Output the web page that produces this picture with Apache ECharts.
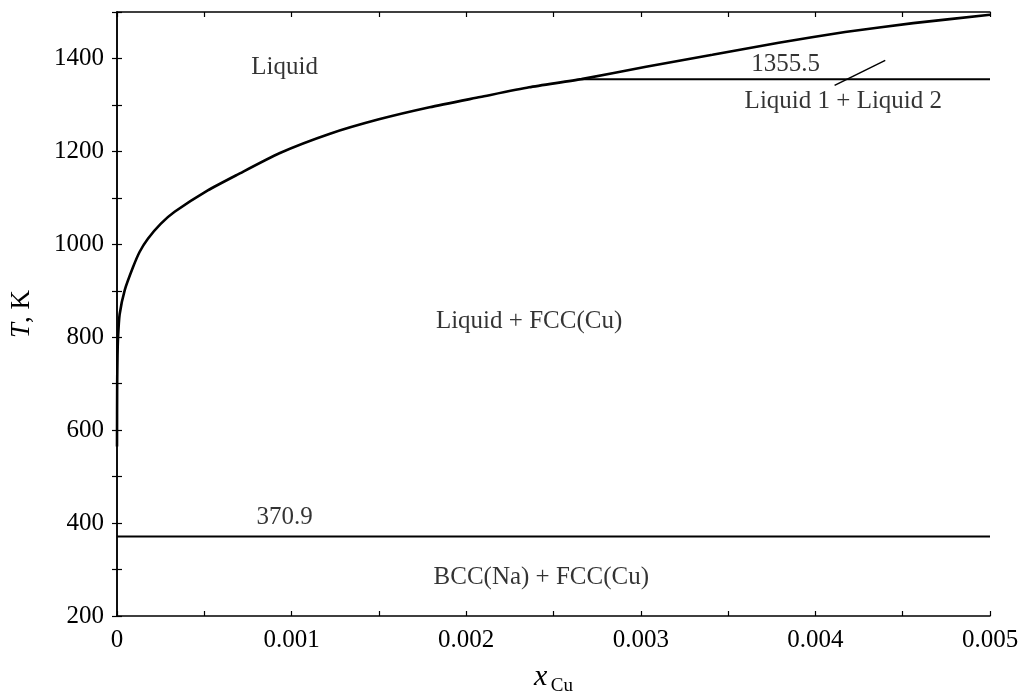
<!DOCTYPE html>
<html>
<head>
<meta charset="utf-8">
<title>Na-Cu</title>
<script src="https://cdn.jsdelivr.net/npm/echarts@6/dist/echarts.min.js"></script>
<style>
  html, body { margin: 0; padding: 0; background: #fff; }
  #chart { width: 1024px; height: 698px; }
</style>
</head>
<body>
<div id="chart"></div>
<script>
// liquidus curve (x Cu, T K)
var liqX = [0, 0.000001, 0.000003, 0.000006, 0.000015, 0.000044, 0.000092, 0.00013, 0.000177, 0.00025, 0.00033, 0.00052, 0.00069, 0.00093, 0.00122, 0.0015, 0.00179, 0.00208, 0.00236, 0.00266, 0.00303, 0.00341, 0.00379, 0.00417, 0.00456, 0.005];
var liqT = [565, 700, 760, 800, 849, 901, 951, 984, 1012, 1044, 1070, 1116, 1150, 1196, 1238, 1269, 1295, 1317, 1338, 1355.5, 1382, 1408, 1434, 1457, 1476, 1494];

// invariant lines
var monoX = [0.00266, 0.005];
var monoT = 1355.5;
var eutX = [0, 0.005];
var eutT = 370.9;

// small pointer under the "1355.5" label
var leaderX = [0.00411, 0.0044];
var leaderT = [1342, 1396];

// region labels
var labelText = ['Liquid', '1355.5', 'Liquid 1 + Liquid 2', 'Liquid + FCC(Cu)', '370.9', 'BCC(Na) + FCC(Cu)'];
var labelX = [0.00096, 0.00383, 0.00416, 0.00236, 0.00096, 0.00243];
var labelT = [1381, 1387, 1307, 833, 412, 284];

var serif = "'Liberation Serif', 'Times New Roman', serif";

function pairs(xs, ys) {
    var out = [];
    for (var i = 0; i < xs.length; i++) {
        out.push([xs[i], Array.isArray(ys) ? ys[i] : ys]);
    }
    return out;
}

var labelData = [];
for (var i = 0; i < labelText.length; i++) {
    labelData.push({ name: labelText[i], value: [labelX[i], labelT[i]] });
}

var lineStyle = { color: '#000', width: 2 };
var tickStyle = { inside: true, length: 5, lineStyle: { color: '#000', width: 1.2 } };
var axisLineStyle = { lineStyle: { color: '#000', width: 1.5 } };

var option = {
    animation: false,
    backgroundColor: '#fff',
    grid: { left: 117, right: 34, top: 12, bottom: 82, outerBoundsMode: 'none' },
    xAxis: [{
        type: 'value', min: 0, max: 0.005, interval: 0.0005, position: 'bottom',
        name: '{i|x} {s|Cu}', nameLocation: 'middle', nameGap: 43,
        nameTextStyle: {
            rich: {
                i: { fontFamily: serif, fontStyle: 'italic', fontSize: 30, color: '#000' },
                s: { fontFamily: serif, fontSize: 19, color: '#000', padding: [18, 0, 0, 0] }
            }
        },
        axisLine: axisLineStyle,
        axisTick: tickStyle,
        splitLine: { show: false },
        axisLabel: {
            margin: 12, fontFamily: serif, fontSize: 25, color: '#000',
            formatter: function(v) {
                var k = v * 1000;
                if (Math.abs(k - Math.round(k)) > 1e-6) return '';
                return v === 0 ? '0' : v.toFixed(3);
            }
        }
    }, {
        type: 'value', min: 0, max: 0.005, interval: 0.0005, position: 'top',
        axisLine: axisLineStyle,
        axisTick: tickStyle,
        axisLabel: { show: false },
        splitLine: { show: false }
    }],
    yAxis: [{
        type: 'value', min: 200, max: 1500, interval: 100, position: 'left',
        name: '{i|T}{n|, K}', nameLocation: 'middle', nameGap: 82, nameRotate: 90,
        nameTextStyle: {
            rich: {
                i: { fontFamily: serif, fontStyle: 'italic', fontSize: 27, color: '#000' },
                n: { fontFamily: serif, fontSize: 27, color: '#000' }
            }
        },
        axisLine: axisLineStyle,
        axisTick: tickStyle,
        splitLine: { show: false },
        axisLabel: {
            margin: 13, fontFamily: serif, fontSize: 25, color: '#000',
            formatter: function(v) { return v % 200 === 0 ? String(v) : ''; }
        }
    }, {
        type: 'value', min: 200, max: 1500, interval: 100, position: 'right',
        axisLine: axisLineStyle,
        axisTick: tickStyle,
        axisLabel: { show: false },
        splitLine: { show: false }
    }],
    series: [{
        type: 'line', name: 'liquidus', data: pairs(liqX, liqT),
        smooth: 0.2, symbol: 'none',
        lineStyle: { color: '#000', width: 2.6 }
    }, {
        type: 'line', name: 'monotectic', data: pairs(monoX, monoT),
        symbol: 'none', lineStyle: lineStyle
    }, {
        type: 'line', name: 'eutectic', data: pairs(eutX, eutT),
        symbol: 'none', lineStyle: lineStyle
    }, {
        type: 'line', name: 'leader', data: pairs(leaderX, leaderT),
        symbol: 'none', lineStyle: { color: '#000', width: 1.5 }
    }, {
        type: 'scatter', name: 'labels', data: labelData, symbolSize: 0,
        label: {
            show: true, position: 'inside', formatter: '{b}',
            fontFamily: serif, fontSize: 25, color: '#000'
        }
    }]
};

var chart = echarts.init(document.getElementById('chart'));
chart.setOption(option);
</script>
</body>
</html>
